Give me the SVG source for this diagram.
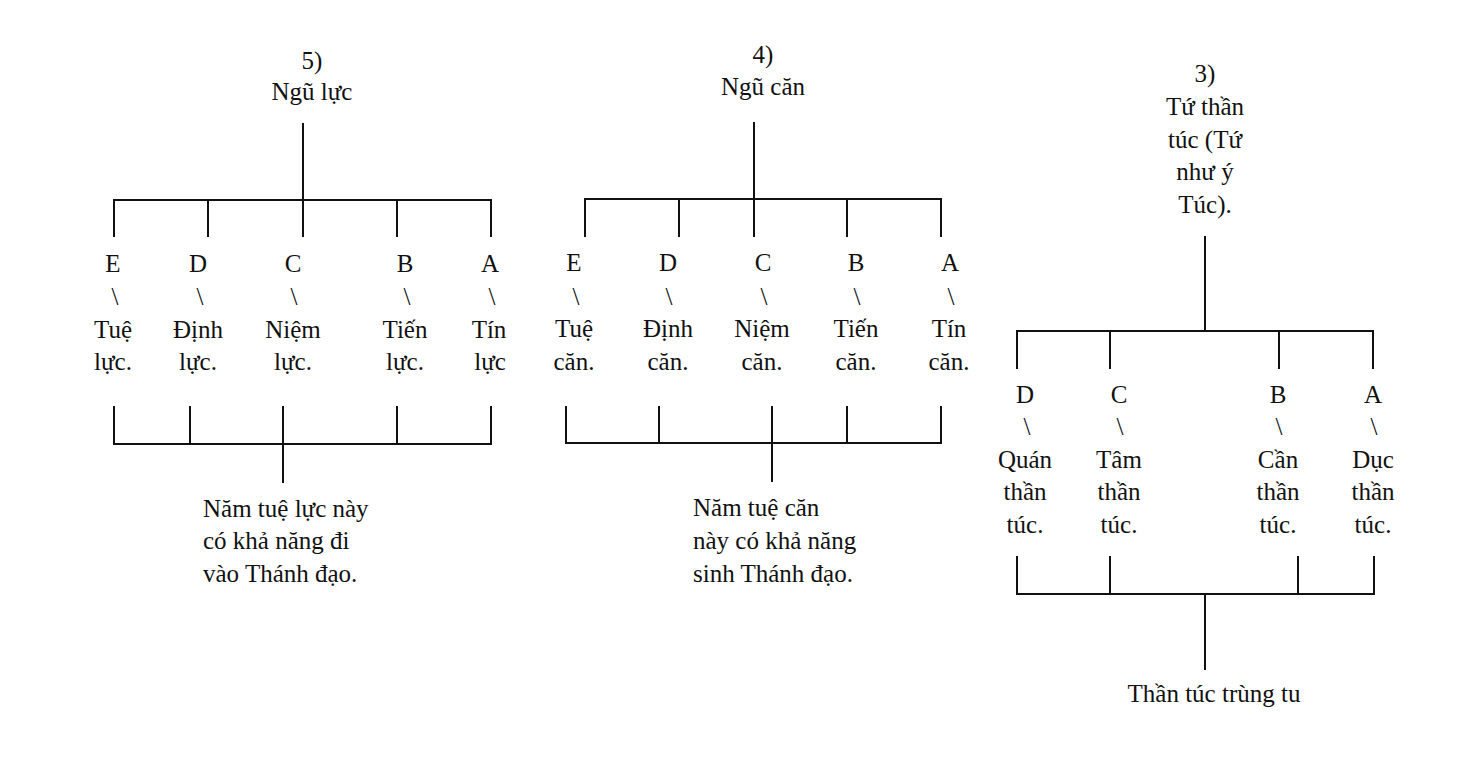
<svg xmlns="http://www.w3.org/2000/svg" width="1479" height="759" viewBox="0 0 1479 759">
<style>
text{font-family:"Liberation Serif","Times New Roman",serif;font-size:25px;fill:#111}
.m{text-anchor:middle}
.c line{stroke:#111;stroke-width:2;stroke-linecap:square}
</style>
<rect width="1479" height="759" fill="#fff"/>
<g class="c" id="connectors">
<line x1="303" y1="124" x2="303" y2="200"/>
<line x1="114" y1="200" x2="491" y2="200"/>
<line x1="114" y1="200" x2="114" y2="236"/>
<line x1="208" y1="200" x2="208" y2="236"/>
<line x1="303" y1="200" x2="303" y2="236"/>
<line x1="397" y1="200" x2="397" y2="236"/>
<line x1="491" y1="200" x2="491" y2="236"/>
<line x1="114" y1="407" x2="114" y2="444"/>
<line x1="190" y1="407" x2="190" y2="444"/>
<line x1="283" y1="407" x2="283" y2="482"/>
<line x1="397" y1="407" x2="397" y2="444"/>
<line x1="491" y1="407" x2="491" y2="444"/>
<line x1="114" y1="444" x2="491" y2="444"/>

<line x1="754" y1="123" x2="754" y2="199"/>
<line x1="585" y1="199" x2="941" y2="199"/>
<line x1="585" y1="199" x2="585" y2="236"/>
<line x1="679" y1="199" x2="679" y2="236"/>
<line x1="754" y1="199" x2="754" y2="236"/>
<line x1="847" y1="199" x2="847" y2="236"/>
<line x1="941" y1="199" x2="941" y2="236"/>
<line x1="566" y1="407" x2="566" y2="443"/>
<line x1="659" y1="407" x2="659" y2="443"/>
<line x1="772" y1="407" x2="772" y2="481"/>
<line x1="847" y1="407" x2="847" y2="443"/>
<line x1="941" y1="407" x2="941" y2="443"/>
<line x1="566" y1="443" x2="941" y2="443"/>

<line x1="1205" y1="237" x2="1205" y2="331"/>
<line x1="1017" y1="331" x2="1373" y2="331"/>
<line x1="1017" y1="331" x2="1017" y2="368"/>
<line x1="1110" y1="331" x2="1110" y2="368"/>
<line x1="1279" y1="331" x2="1279" y2="368"/>
<line x1="1373" y1="331" x2="1373" y2="368"/>
<line x1="1017" y1="557" x2="1017" y2="594"/>
<line x1="1110" y1="557" x2="1110" y2="594"/>
<line x1="1298" y1="557" x2="1298" y2="594"/>
<line x1="1374" y1="557" x2="1374" y2="594"/>
<line x1="1017" y1="594" x2="1374" y2="594"/>
<line x1="1205" y1="594" x2="1205" y2="669"/>
</g>

<g id="root5"><text class="m" x="312" y="69">5)</text><text class="m" x="312" y="100">Ngũ lực</text></g>
<g id="n5E"><text class="m" x="113" y="272">E</text><text class="m" x="115" y="305">\</text><text class="m" x="113" y="338">Tuệ</text><text class="m" x="113" y="370">lực.</text></g>
<g id="n5D"><text class="m" x="198" y="272">D</text><text class="m" x="200" y="305">\</text><text class="m" x="198" y="338">Định</text><text class="m" x="198" y="370">lực.</text></g>
<g id="n5C"><text class="m" x="293" y="272">C</text><text class="m" x="294" y="305">\</text><text class="m" x="293" y="338">Niệm</text><text class="m" x="293" y="370">lực.</text></g>
<g id="n5B"><text class="m" x="405" y="272">B</text><text class="m" x="407" y="305">\</text><text class="m" x="405" y="338">Tiến</text><text class="m" x="405" y="370">lực.</text></g>
<g id="n5A"><text class="m" x="490" y="272">A</text><text class="m" x="492" y="305">\</text><text class="m" x="489" y="338">Tín</text><text class="m" x="490" y="370">lực</text></g>
<g id="res5"><text x="203" y="517">Năm tuệ lực này</text><text x="203" y="549">có khả năng đi</text><text x="203" y="582">vào Thánh đạo.</text></g>

<g id="root4"><text class="m" x="763" y="63">4)</text><text class="m" x="763" y="95">Ngũ căn</text></g>
<g id="n4E"><text class="m" x="574" y="271">E</text><text class="m" x="576" y="305">\</text><text class="m" x="574" y="337">Tuệ</text><text class="m" x="574" y="370">căn.</text></g>
<g id="n4D"><text class="m" x="668" y="271">D</text><text class="m" x="669" y="305">\</text><text class="m" x="668" y="337">Định</text><text class="m" x="668" y="370">căn.</text></g>
<g id="n4C"><text class="m" x="763" y="271">C</text><text class="m" x="764" y="305">\</text><text class="m" x="762" y="337">Niệm</text><text class="m" x="762" y="370">căn.</text></g>
<g id="n4B"><text class="m" x="856" y="271">B</text><text class="m" x="857" y="305">\</text><text class="m" x="856" y="337">Tiến</text><text class="m" x="856" y="370">căn.</text></g>
<g id="n4A"><text class="m" x="950" y="271">A</text><text class="m" x="951" y="305">\</text><text class="m" x="949" y="337">Tín</text><text class="m" x="949" y="370">căn.</text></g>
<g id="res4"><text x="693" y="516">Năm tuệ căn</text><text x="693" y="549">này có khả năng</text><text x="693" y="582">sinh Thánh đạo.</text></g>

<g id="root3"><text class="m" x="1205" y="82">3)</text><text class="m" x="1205" y="115">Tứ thần</text><text class="m" x="1205" y="148">túc (Tứ</text><text class="m" x="1205" y="180">như ý</text><text class="m" x="1205" y="213">Túc).</text></g>
<g id="n3D"><text class="m" x="1025" y="403">D</text><text class="m" x="1027" y="435">\</text><text class="m" x="1025" y="468">Quán</text><text class="m" x="1025" y="500">thần</text><text class="m" x="1025" y="533">túc.</text></g>
<g id="n3C"><text class="m" x="1119" y="403">C</text><text class="m" x="1120" y="435">\</text><text class="m" x="1119" y="468">Tâm</text><text class="m" x="1119" y="500">thần</text><text class="m" x="1119" y="533">túc.</text></g>
<g id="n3B"><text class="m" x="1278" y="403">B</text><text class="m" x="1279" y="435">\</text><text class="m" x="1278" y="468">Cần</text><text class="m" x="1278" y="500">thần</text><text class="m" x="1278" y="533">túc.</text></g>
<g id="n3A"><text class="m" x="1373" y="403">A</text><text class="m" x="1374" y="435">\</text><text class="m" x="1373" y="468">Dục</text><text class="m" x="1373" y="500">thần</text><text class="m" x="1373" y="533">túc.</text></g>
<g id="res3"><text class="m" x="1214" y="702">Thần túc trùng tu</text></g>
</svg>
